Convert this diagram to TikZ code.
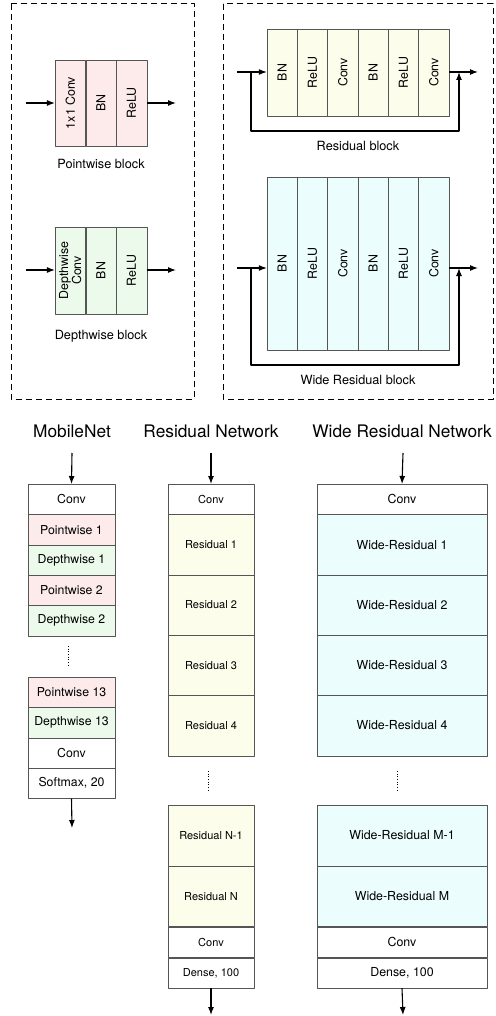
\documentclass[tikz,border=0pt]{standalone}
\usepackage{fontspec}
\setmainfont{TeX Gyre Heros}
\usetikzlibrary{arrows.meta,positioning}
\definecolor{pwfill}{RGB}{253,235,235}
\definecolor{dwfill}{RGB}{235,250,235}
\definecolor{resfill}{RGB}{253,253,236}
\definecolor{widefill}{RGB}{236,253,254}
\definecolor{edge}{RGB}{85,85,85}
\tikzset{
	cell/.style={draw=edge, rotate=90, inner sep=0pt, minimum height=30.4pt, align=center, font=\fontsize{12.4}{13}\selectfont},
	layer/.style={draw=edge, fill=white, inner sep=0pt, anchor=north},
	pw/.style={fill=pwfill}, dw/.style={fill=dwfill},
	res/.style={fill=resfill}, wide/.style={fill=widefill}, plain/.style={fill=white},
	flow/.style={line width=1.1pt, -{Latex[length=8pt,width=6pt]}},
	frame/.style={line width=1pt, dash pattern=on 6pt off 4pt},
	caption/.style={font=\fontsize{12.7}{14}\selectfont},
	title/.style={font=\fontsize{17.3}{20}\selectfont}
}
\begin{document}
\begin{tikzpicture}[x=1pt, y=-1pt, line join=round]
	\useasboundingbox (0,0) rectangle (495,1016);
	% hai khung net dut
	\draw[frame] (11,4) rectangle (194,399);
	\draw[frame] (223,4) rectangle (493,399);

	% Pointwise block
	\foreach \t [count=\i] in {1x1 Conv, BN, ReLU}
		\node[cell, pw, minimum width=86pt] (pw\i) at (70.3+30.6*\i-30.6,103) {\t};
	\coordinate (pwin) at (26,103);
	\coordinate (pwout) at (176,103);
	\draw[flow] (pwin) -- (pw1.north);
	\draw[flow] (pw3.south) -- (pwout);
	\node[caption] (pwcap) at (101,164) {Pointwise block};

	% Depthwise block
	\foreach \t [count=\i] in {{Depthwise\\Conv}, BN, ReLU}
		\node[cell, dw, minimum width=87pt] (dw\i) at (70.3+30.6*\i-30.6,270.5) {\t};
	\coordinate (dwin) at (26,270);
	\coordinate (dwout) at (176,270);
	\draw[flow] (dwin) -- (dwin -| dw1.north);
	\draw[flow] (dwout -| dw3.south) -- (dwout);
	\node[caption] (dwcap) at (101,336) {Depthwise block};

	% Residual block
	\foreach \t [count=\i] in {BN, ReLU, Conv, BN, ReLU, Conv}
		\node[cell, res, minimum width=87pt] (rb\i) at (282.2+30.33*\i-30.33,72.5) {\t};
	\coordinate (rbin) at (237,72);
	\coordinate (rbout) at (478,72);
	\coordinate (rbsplit) at (251,72);
	\coordinate (rbjoin) at (459,72);
	\draw[flow] (rbin) -- (rbin -| rb1.north);
	\draw[flow] (rbout -| rb6.south) -- (rbout);
	\draw[flow] (rbsplit) -- ++(0,59) -| (rbjoin);
	\node[caption] (rbcap) at (358,146) {Residual block};

	% Wide Residual block
	\foreach \t [count=\i] in {BN, ReLU, Conv, BN, ReLU, Conv}
		\node[cell, wide, minimum width=173pt] (wb\i) at (282.2+30.33*\i-30.33,263.5) {\t};
	\coordinate (wbin) at (237,268);
	\coordinate (wbout) at (478,268);
	\coordinate (wbsplit) at (251,268);
	\coordinate (wbjoin) at (459,268);
	\draw[flow] (wbin) -- (wbin -| wb1.north);
	\draw[flow] (wbout -| wb6.south) -- (wbout);
	\draw[flow] (wbsplit) -- ++(0,97) -| (wbjoin);
	\node[caption] (wbcap) at (358,380) {Wide Residual block};

	% MobileNet
	\node[title] (mntitle) at (72,431) {MobileNet};
	\foreach \s/\t [count=\i] in {plain/Conv, pw/Pointwise 1, dw/Depthwise 1, pw/Pointwise 2, dw/Depthwise 2}
		\node[layer, \s, minimum width=87pt, minimum height=30.3pt, font=\fontsize{12.3}{14}\selectfont] (mn\i) at (71.5,484+30.3*\i-30.3) {\t};
	\foreach \s/\t [count=\i from 6] in {pw/Pointwise 13, dw/Depthwise 13, plain/Conv, plain/{Softmax, 20}}
		\node[layer, \s, minimum width=87pt, minimum height=30.3pt, font=\fontsize{12.3}{14}\selectfont] (mn\i) at (71.5,677+30.3*\i-181.8) {\t};
	\coordinate (mnin) at (72,453);
	\coordinate (mnout) at (72,828);
	\draw[flow] (mnin) -- (mn1.north);
	\draw[flow] (mn9.south) -- (mnout);
	\draw[dotted, line width=0.7pt] ([xshift=-3.5pt, yshift=-10pt]mn5.south) -- ([xshift=-3.5pt, yshift=10pt]mn6.north);

	% Residual Network
	\node[title] (rntitle) at (211,431) {Residual Network};
	\node[layer, plain, minimum width=86pt, minimum height=30.3pt, font=\fontsize{11}{13}\selectfont] (rn1) at (211,484) {Conv};
	\foreach \i in {1,...,4}
		\node[layer, res, minimum width=86pt, minimum height=60.3pt, font=\fontsize{11}{13}\selectfont] (rn\i r) at (211,514.3+60.3*\i-60.3) {Residual \i};
	\node[layer, res, minimum width=86pt, minimum height=60.5pt, font=\fontsize{11}{13}\selectfont] (rnm) at (211,805) {Residual N-1};
	\node[layer, res, minimum width=86pt, minimum height=60.5pt, font=\fontsize{11}{13}\selectfont, below=0pt of rnm] (rnn) {Residual N};
	\node[layer, plain, minimum width=86pt, minimum height=30.3pt, font=\fontsize{11}{13}\selectfont, below=0pt of rnn] (rnc) {Conv};
	\node[layer, plain, minimum width=86pt, minimum height=30.3pt, font=\fontsize{11}{13}\selectfont, below=0pt of rnc] (rnd) {Dense, 100};
	\coordinate (rnin) at (211,453);
	\coordinate (rnout) at (211,1015);
	\draw[flow] (rnin) -- (rn1.north);
	\draw[flow] (rnd.south) -- (rnout);
	\draw[dotted, line width=0.7pt] ([xshift=-3pt, yshift=-15pt]rn4r.south) -- ([xshift=-3pt, yshift=15pt]rnm.north);

	% Wide Residual Network
	\node[title] (wntitle) at (402,431) {Wide Residual Network};
	\node[layer, plain, minimum width=170pt, minimum height=30.3pt, font=\fontsize{12.4}{14}\selectfont] (wn1) at (402,484) {Conv};
	\foreach \i in {1,...,4}
		\node[layer, wide, minimum width=170pt, minimum height=60.3pt, font=\fontsize{12.4}{14}\selectfont] (wn\i r) at (402,514.3+60.3*\i-60.3) {Wide-Residual \i};
	\node[layer, wide, minimum width=170pt, minimum height=60.5pt, font=\fontsize{12.4}{14}\selectfont] (wnm) at (402,805) {Wide-Residual M-1};
	\node[layer, wide, minimum width=170pt, minimum height=60.5pt, font=\fontsize{12.4}{14}\selectfont, below=0pt of wnm] (wnn) {Wide-Residual M};
	\node[layer, plain, minimum width=170pt, minimum height=30.3pt, font=\fontsize{12.4}{14}\selectfont, below=0pt of wnn] (wnc) {Conv};
	\node[layer, plain, minimum width=170pt, minimum height=30.3pt, font=\fontsize{12.4}{14}\selectfont, below=0pt of wnc] (wnd) {Dense, 100};
	\coordinate (wnin) at (403,453);
	\coordinate (wnout) at (403,1015);
	\draw[flow] (wnin) -- (wn1.north);
	\draw[flow] (wnd.south) -- (wnout);
	\draw[dotted, line width=0.7pt] ([xshift=-5pt, yshift=-15pt]wn4r.south) -- ([xshift=-5pt, yshift=15pt]wnm.north);
\end{tikzpicture}
\end{document}
